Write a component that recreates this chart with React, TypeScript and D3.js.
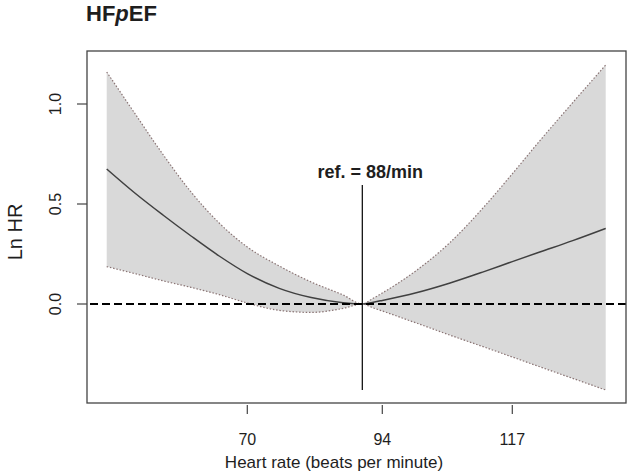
import React from "react";
import * as d3 from "d3";

// heart rate grid (beats per minute)
const heartRate = [45, 50, 55, 60, 65, 70, 75, 80, 85, 88, 91, 94, 100, 106, 112, 117, 122, 128, 134];
// log hazard ratio and 95% CI
const lnHR = [0.675, 0.555, 0.445, 0.34, 0.24, 0.152, 0.078, 0.032, 0.006, 0, 0.008, 0.018, 0.056, 0.105, 0.162, 0.212, 0.26, 0.317, 0.378];
const upperCI = [1.16, 0.953, 0.748, 0.56, 0.405, 0.285, 0.19, 0.11, 0.045, 0, 0.026, 0.055, 0.167, 0.308, 0.486, 0.651, 0.816, 1.007, 1.195];
const lowerCI = [0.187, 0.152, 0.116, 0.083, 0.047, 0.005, -0.032, -0.042, -0.022, 0, -0.018, -0.035, -0.095, -0.156, -0.215, -0.265, -0.314, -0.372, -0.43];

const xTicks = [70, 94, 117];
const yTicks = [0, 0.5, 1.0];
const refRate = 88;
const refLineTop = 0.595;

const W = 630;
const H = 475;
const box = { left: 87, right: 626, top: 51, bottom: 403 };
const font = "'Liberation Sans', Arial, sans-serif";
const ink = "#1e1e1e";

export default function App() {
  // the axis is not evenly spaced between labelled rates, so use a piecewise scale
  const x = d3
    .scaleLinear()
    .domain([45, 70, 88, 94, 117, 134])
    .range([106.7, 247.3, 362.3, 382.3, 512.3, 605.7]);

  const y = d3.scaleLinear().domain([0, 1]).range([304, 104]);

  const rows = heartRate.map((hr, i) => ({ hr, est: lnHR[i], lo: lowerCI[i], hi: upperCI[i] }));

  const band = d3
    .area<any>()
    .x((d) => x(d.hr))
    .y0((d) => y(d.lo))
    .y1((d) => y(d.hi))
    .curve(d3.curveMonotoneX);

  const line = (key: string) =>
    d3
      .line<any>()
      .x((d) => x(d.hr))
      .y((d) => y(d[key]))
      .curve(d3.curveMonotoneX)(rows) as string;

  return (
    <svg width={W} height={H} style={{ position: "absolute", left: 0, top: 0, background: "#fff" }}>
      {/* title */}
      <text x={86} y={21} fontFamily={font} fontWeight="bold" fontSize={22} fill={ink}>
        HF<tspan fontStyle="italic">p</tspan>EF
      </text>

      {/* CI band */}
      <path d={band(rows) as string} fill="#d9d9d9" stroke="none" />
      <path d={line("hi")} fill="none" stroke="#8a7474" strokeWidth={1.2} strokeDasharray="1.5,1.8" />
      <path d={line("lo")} fill="none" stroke="#8a7474" strokeWidth={1.2} strokeDasharray="1.5,1.8" />
      <path d={line("est")} fill="none" stroke="#404040" strokeWidth={1.5} />

      {/* zero line */}
      <line x1={box.left + 3} x2={box.right} y1={y(0)} y2={y(0)} stroke="#000" strokeWidth={2} strokeDasharray="8,4" />

      {/* reference line */}
      <line x1={x(refRate)} x2={x(refRate)} y1={y(refLineTop)} y2={y(-0.43)} stroke="#000" strokeWidth={1.2} />
      <text x={x(refRate) + 8} y={178} textAnchor="middle" fontFamily={font} fontWeight="bold" fontSize={18} fill={ink}>
        ref. = {refRate}/min
      </text>

      {/* box */}
      <rect x={box.left} y={box.top} width={box.right - box.left} height={box.bottom - box.top} fill="none" stroke="#444" strokeWidth={1.3} />

      {/* y axis */}
      {yTicks.map((t) => (
        <g key={t}>
          <line x1={box.left - 10} x2={box.left} y1={y(t)} y2={y(t)} stroke="#444" strokeWidth={1.2} />
          <text
            transform={`translate(61,${y(t)}) rotate(-90)`}
            textAnchor="middle"
            fontFamily={font}
            fontSize={16}
            fill={ink}
          >
            {d3.format(".1f")(t)}
          </text>
        </g>
      ))}
      <text transform={`translate(22,232) rotate(-90)`} textAnchor="middle" fontFamily={font} fontSize={20} fill={ink}>
        Ln HR
      </text>

      {/* x axis */}
      {xTicks.map((t) => (
        <g key={t}>
          <line x1={x(t)} x2={x(t)} y1={box.bottom + 2} y2={box.bottom + 11} stroke="#444" strokeWidth={1.2} />
          <text x={x(t)} y={445} textAnchor="middle" fontFamily={font} fontSize={16} fill={ink}>
            {t}
          </text>
        </g>
      ))}
      <text x={334} y={468} textAnchor="middle" fontFamily={font} fontSize={17} fill={ink}>
        Heart rate (beats per minute)
      </text>
    </svg>
  );
}
